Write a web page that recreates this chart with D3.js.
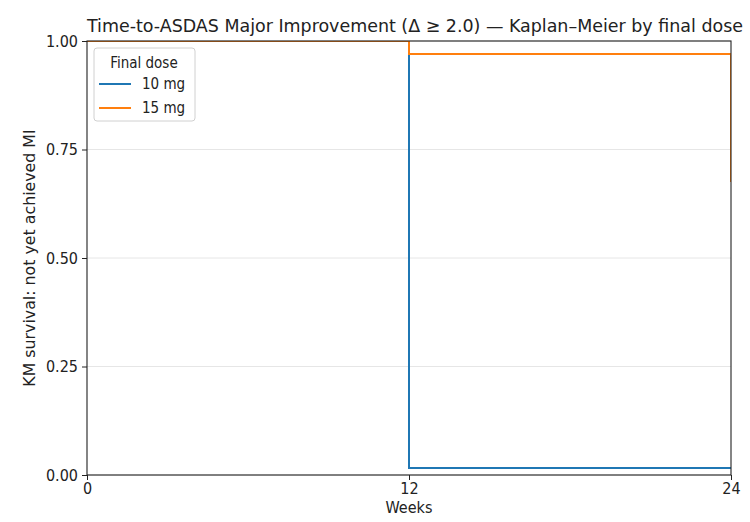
<!DOCTYPE html>
<html>
<head>
<meta charset="utf-8">
<script src="https://cdn.jsdelivr.net/npm/d3@7"></script>
<style>
  body { margin: 0; background: #fff; }
  text { font-family: "DejaVu Sans Condensed", "DejaVu Sans", sans-serif; fill: #222; }
</style>
</head>
<body>
<svg id="chart" width="750" height="522"></svg>
<script>
// KM curves by final dose
const groups = ["10 mg", "15 mg"];
const colors = ["#1f77b4", "#ff7f0e"];
const weeks = [0, 12, 24];
const surv10 = [1.0, 0.016, 0.016];
const surv15 = [1.0, 0.97, 0.675];
const xTicks = [0, 12, 24];
const yTicks = [0, 0.25, 0.5, 0.75, 1.0];

const svg = d3.select('#chart');
const margin = { top: 41, right: 19, bottom: 47, left: 87 };
const width = 750 - margin.left - margin.right;
const height = 522 - margin.top - margin.bottom;

const x = d3.scaleLinear().domain([0, 24]).range([0, width]);
const y = d3.scaleLinear().domain([0, 1]).range([height, 0]);

svg.append("defs").append("clipPath")
    .attr("id", "plot-clip")
    .append("rect")
    .attr("width", width).attr("height", height);

const g = svg.append("g")
    .attr("transform", `translate(${margin.left},${margin.top})`);

// gridlines
g.append("g")
    .selectAll("line")
    .data(yTicks)
    .join("line")
    .attr("x1", 0).attr("x2", width)
    .attr("y1", d => y(d)).attr("y2", d => y(d))
    .style("stroke", "#e6e6e6")
    .style("stroke-width", 1);

const series = [surv10, surv15].map((s, i) => ({
    name: groups[i],
    color: colors[i],
    values: weeks.map((w, j) => ({ t: w, s: s[j] }))
}));

const line = d3.line()
    .x(d => x(d.t))
    .y(d => y(d.s))
    .curve(d3.curveStepAfter);

g.append("g")
    .attr("clip-path", "url(#plot-clip)")
    .selectAll("path")
    .data(series)
    .join("path")
    .attr("d", d => line(d.values))
    .style("fill", "none")
    .style("stroke", d => d.color)
    .style("stroke-width", 2);

// axes
const xAxis = g.append("g")
    .attr("transform", `translate(0,${height})`)
    .call(d3.axisBottom(x).tickValues(xTicks).tickSize(5).tickPadding(3));
const yAxis = g.append("g")
    .call(d3.axisLeft(y).tickValues(yTicks).tickFormat(d3.format(".2f")).tickSize(5).tickPadding(4));

[xAxis, yAxis].forEach(a => {
    a.selectAll("text").style("font-size", "16px").style("fill", "#222")
        .style("font-family", "'DejaVu Sans Condensed', sans-serif");
    a.selectAll("line").style("stroke", "#222");
    a.select(".domain").remove();
});

// frame
g.append("rect")
    .attr("width", width).attr("height", height)
    .style("fill", "none")
    .style("stroke", "#222")
    .style("stroke-width", 1.1);

// labels
svg.append("text")
    .attr("x", margin.left + width / 2)
    .attr("y", 513)
    .attr("text-anchor", "middle")
    .style("font-size", "16px")
    .text("Weeks");

svg.append("text")
    .attr("transform", `translate(35,${margin.top + height / 2}) rotate(-90)`)
    .attr("text-anchor", "middle")
    .style("font-family", "'DejaVu Sans', sans-serif")
    .style("font-size", "15.8px")
    .text("KM survival: not yet achieved MI");

svg.append("text")
    .attr("x", 415)
    .attr("y", 32)
    .attr("text-anchor", "middle")
    .attr("textLength", 656)
    .attr("lengthAdjust", "spacingAndGlyphs")
    .style("font-size", "18px")
    .text("Time-to-ASDAS Major Improvement (Δ ≥ 2.0) — Kaplan–Meier by final dose");

// legend
const legend = g.append("g").attr("transform", "translate(7,7)");
legend.append("rect")
    .attr("width", 101).attr("height", 73)
    .attr("rx", 3)
    .style("fill", "#fff")
    .style("fill-opacity", 0.8)
    .style("stroke", "#d0d0d0");
legend.append("text")
    .attr("x", 50).attr("y", 20)
    .attr("text-anchor", "middle")
    .style("font-size", "15px")
    .text("Final dose");
const item = legend.selectAll("g.item")
    .data(series)
    .join("g")
    .attr("class", "item")
    .attr("transform", (d, i) => `translate(0,${36 + i * 24})`);
item.append("line")
    .attr("x1", 5).attr("x2", 37)
    .style("stroke", d => d.color)
    .style("stroke-width", 2);
item.append("text")
    .attr("x", 48).attr("y", 5)
    .style("font-size", "15px")
    .text(d => d.name);
</script>
</body>
</html>
